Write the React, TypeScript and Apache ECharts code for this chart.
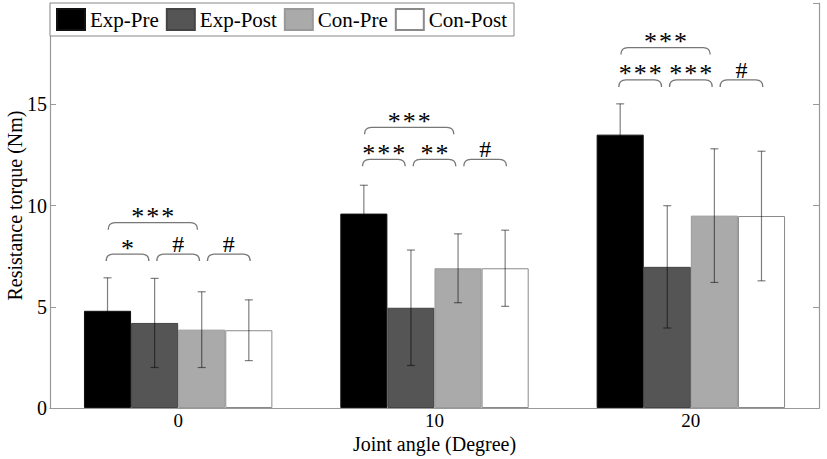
import React, { useEffect, useRef } from "react";
import * as echarts from "echarts";

const categories = ["0", "10", "20"];
const seriesNames = ["Exp-Pre", "Exp-Post", "Con-Pre", "Con-Post"];
const expPre = [4.8, 9.6, 13.5];
const expPost = [4.2, 4.95, 6.97];
const conPre = [3.87, 6.9, 9.5];
const conPost = [3.84, 6.9, 9.48];
const expPreErr = [1.63, 1.4, 1.52];
const expPostErr = [2.2, 2.85, 3.02];
const conPreErr = [1.87, 1.7, 3.3];
const conPostErr = [1.5, 1.88, 3.2];
const yTicks = [0, 5, 10, 15, 20];

// significance brackets
const bracketCategory = [0, 0, 0, 0, 1, 1, 1, 1, 2, 2, 2, 2];
const bracketFrom = [0, 1, 2, 0, 0, 1, 2, 0, 0, 1, 2, 0];
const bracketTo = [1, 2, 3, 2, 1, 2, 3, 2, 1, 2, 3, 2];
const bracketLevel = [7.6, 7.6, 7.6, 9.15, 12.28, 12.28, 12.28, 13.86, 16.2, 16.2, 16.2, 17.8];
const bracketLabel = ["*", "#", "#", "***", "***", "**", "#", "***", "***", "***", "#", "***"];

const values = [expPre, expPost, conPre, conPost];
const errors = [expPreErr, expPostErr, conPreErr, conPostErr];
const colors = ["#000000", "#555555", "#aaaaaa", "#ffffff"];
const borders = ["#111111", "#444444", "#999999", "#8a8a8a"];
const GAP = 0.265;
const FONT = "Liberation Serif";

export default function App() {
  const ref = useRef<HTMLDivElement>(null);
  useEffect(() => {
    const chart = echarts.init(ref.current!, null, { renderer: "svg" });
    const barSeries = seriesNames.map((name, s) => ({
      name,
      type: "bar",
      data: values[s],
      barGap: "0%",
      barCategoryGap: (GAP * 100).toFixed(1) + "%",
      itemStyle: { color: colors[s], borderColor: borders[s], borderWidth: 1 },
      z: 2,
    }));
    const errSeries = seriesNames.map((name, s) => ({
      type: "custom",
      name: name + "-err",
      z: 5,
      silent: true,
      data: values[s].map((v, i) => [i, v - errors[s][i], v + errors[s][i]]),
      encode: { x: 0, y: [1, 2] },
      renderItem: (params: any, api: any) => {
        const cat = api.value(0);
        const band = api.size([1, 0])[0];
        const bw = (band * (1 - GAP)) / 4;
        const lo = api.coord([cat, api.value(1)]);
        const hi = api.coord([cat, api.value(2)]);
        const x = lo[0] + (s - 1.5) * bw;
        const cap = 4;
        const st = { stroke: "rgba(0,0,0,0.5)", lineWidth: 1.2 };
        return {
          type: "group",
          children: [
            { type: "line", shape: { x1: x, y1: lo[1], x2: x, y2: hi[1] }, style: st },
            { type: "line", shape: { x1: x - cap, y1: lo[1], x2: x + cap, y2: lo[1] }, style: st },
            { type: "line", shape: { x1: x - cap, y1: hi[1], x2: x + cap, y2: hi[1] }, style: st },
          ],
        };
      },
    }));
    const bracketSeries = {
      type: "custom",
      name: "brackets",
      z: 6,
      silent: true,
      data: bracketCategory.map((c, i) => [c, bracketLevel[i], bracketFrom[i], bracketTo[i]]),
      encode: { x: 0, y: 1 },
      renderItem: (params: any, api: any) => {
        const cat = api.value(0);
        const band = api.size([1, 0])[0];
        const bw = (band * (1 - GAP)) / 4;
        const p = api.coord([cat, api.value(1)]);
        const from = api.value(2);
        const to = api.value(3);
        const slot = (i: number) => p[0] + (i - 1.5) * 1.075 * bw;
        const inset = 4 + (to - from - 1) * 2;
        const x1 = slot(from) + inset;
        const x2 = slot(to) - inset;
        const cx = (x1 + x2) / 2;
        const y0 = p[1];
        const r = 7;
        const d = `M${x1},${y0 + r}Q${x1},${y0} ${x1 + r},${y0}L${x2 - r},${y0}Q${x2},${y0} ${x2},${y0 + r}`;
        const raw = bracketLabel[params.dataIndex];
        const isStar = raw.indexOf("*") >= 0;
        const children: any[] = [
          { type: "path", shape: { pathData: d }, style: { stroke: "#777777", lineWidth: 1.3, fill: "none" } },
        ];
        if (isStar) {
          const n = raw.length;
          const pitch = 15;
          for (let k = 0; k < n; k++) {
            children.push({
              type: "text",
              x: cx + (k - (n - 1) / 2) * pitch,
              y: y0 + 7,
              style: { text: "*", fill: "#000", font: `26px "${FONT}"`, align: "center", verticalAlign: "bottom" },
            });
          }
        } else {
          children.push({
            type: "text",
            x: cx,
            y: y0 + 2,
            style: { text: raw, fill: "#000", font: `24px "${FONT}"`, align: "center", verticalAlign: "bottom" },
          });
        }
        return { type: "group", children };
      },
    };
    chart.setOption({
      animation: false,
      backgroundColor: "#fff",
      textStyle: { fontFamily: FONT },
      grid: { left: 50, right: 8, top: 3, bottom: 51, containLabel: false, outerBoundsMode: "none" },
      legend: {
        data: seriesNames.map((n) => ({ name: n, icon: "rect" })),
        left: 50,
        top: 3,
        orient: "horizontal",
        itemWidth: 28,
        itemHeight: 21,
        itemGap: 7,
        padding: [5, 7, 5, 6],
        borderColor: "#888",
        borderWidth: 1,
        backgroundColor: "#fff",
        textStyle: { fontFamily: FONT, fontSize: 21, color: "#000" },
        z: 10,
      },
      xAxis: [
        {
          type: "category",
          data: categories,
          position: "bottom",
          name: "Joint angle (Degree)",
          nameLocation: "middle",
          nameGap: 27,
          nameMoveOverlap: false,
          nameTextStyle: { fontFamily: FONT, fontSize: 20, color: "#000", lineHeight: 18 },
          axisLine: { lineStyle: { color: "#999", width: 1.2 } },
          axisTick: { inside: true, alignWithLabel: true, length: 6, lineStyle: { color: "#999" } },
          axisLabel: { fontFamily: FONT, fontSize: 19, color: "#000", margin: 3, lineHeight: 19 },
        },
        {
          type: "category",
          data: categories,
          position: "top",
          axisLine: { lineStyle: { color: "#999", width: 1.2 } },
          axisTick: { inside: true, alignWithLabel: true, length: 6, lineStyle: { color: "#999" } },
          axisLabel: { show: false },
        },
      ],
      yAxis: [
        {
          type: "value",
          min: yTicks[0],
          max: yTicks[yTicks.length - 1],
          interval: 5,
          position: "left",
          name: "Resistance torque (Nm)",
          nameLocation: "middle",
          nameGap: 25,
          nameMoveOverlap: false,
          nameTextStyle: { fontFamily: FONT, fontSize: 20, color: "#000" },
          splitLine: { show: false },
          axisLine: { show: true, lineStyle: { color: "#999", width: 1.2 } },
          axisTick: { show: true, inside: true, length: 6, lineStyle: { color: "#999" } },
          axisLabel: {
            fontFamily: FONT,
            fontSize: 20,
            color: "#000",
            margin: 3,
            formatter: (v: number) => (v === yTicks[yTicks.length - 1] ? "" : String(v)),
          },
        },
        {
          type: "value",
          min: yTicks[0],
          max: yTicks[yTicks.length - 1],
          interval: 5,
          position: "right",
          splitLine: { show: false },
          axisLine: { show: true, lineStyle: { color: "#999", width: 1.2 } },
          axisTick: { show: true, inside: true, length: 6, lineStyle: { color: "#999" } },
          axisLabel: { show: false },
        },
      ],
      series: [...barSeries, ...errSeries, bracketSeries],
    });
    return () => chart.dispose();
  }, []);
  return <div ref={ref} style={{ position: "fixed", left: 0, top: 0, width: 827, height: 459 }} />;
}
